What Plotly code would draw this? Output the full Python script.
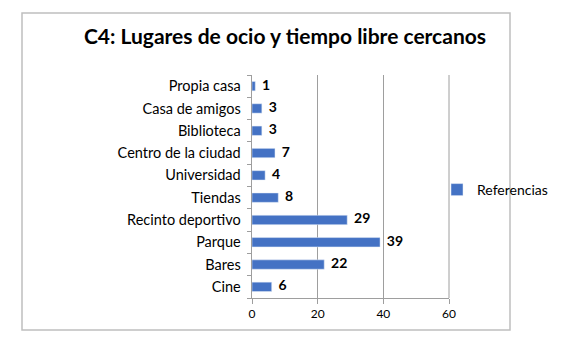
import plotly.graph_objects as go

categories = ["Cine", "Bares", "Parque", "Recinto deportivo", "Tiendas",
              "Universidad", "Centro de la ciudad", "Biblioteca", "Casa de amigos", "Propia casa"]
values = [6, 22, 39, 29, 8, 4, 7, 3, 3, 1]
x_ticks = [0, 20, 40, 60]
series_name = "Referencias"
title_text = "C4: Lugares de ocio y tiempo libre cercanos"

W, H = 567, 341
L, R, T, B = 252, 449, 75, 298
pw, ph = R - L, B - T

def px(x):
    return (x - L) / pw

def py(y):
    return (B - y) / ph

fig = go.Figure()
fig.add_trace(go.Bar(
    y=categories, x=values, orientation="h", name=series_name,
    marker=dict(color="#4472C4"), showlegend=True,
))
fig.add_trace(go.Scatter(
    y=categories, x=values, mode="text", text=["  " + str(v) for v in values],
    textposition="middle right", showlegend=False, cliponaxis=False,
    textfont=dict(family="Lato", size=14, color="#000000", weight="bold"),
))

fig.update_layout(
    width=W, height=H,
    margin=dict(l=L, r=W - R, t=T, b=H - B, autoexpand=False),
    paper_bgcolor="white", plot_bgcolor="white",
    font=dict(family="Lato", size=14, color="#000000"),
    bargap=0.58,
    title=dict(text="<b>" + title_text + "</b>", x=285 / W, xanchor="center",
               y=1 - 37 / H, yanchor="middle",
               font=dict(family="Lato", size=21, color="#000000")),
    xaxis=dict(range=[0, 60], tickvals=x_ticks, showgrid=True, gridcolor="#9e9e9e",
               gridwidth=1, zeroline=False, showline=True, linecolor="#9e9e9e",
               ticks="outside", ticklen=5, tickcolor="#9e9e9e",
               tickfont=dict(family="Lato", size=12, color="#000000")),
    yaxis=dict(type="category", showgrid=False, showline=True, linecolor="#9e9e9e",
               ticks="outside", ticklen=4, tickcolor="#9e9e9e", tickson="boundaries",
               tickfont=dict(family="Lato", size=14.5, color="#000000"), ticksuffix="  "),
    legend=dict(x=px(437), y=py(190), xanchor="left", yanchor="middle",
                font=dict(family="Lato", size=14, color="#000000"),
                itemwidth=30, bgcolor="rgba(0,0,0,0)"),
    shapes=[
        dict(type="rect", xref="paper", yref="paper",
             x0=px(22), x1=px(510), y0=py(330), y1=py(13),
             line=dict(color="#bfbfbf", width=1.5), layer="below"),
        dict(type="line", xref="paper", yref="paper", x0=1, x1=1, y0=0, y1=1,
             line=dict(color="#9e9e9e", width=1)),
    ],
)

fig.write_html("out.html", config={"displayModeBar": False},
               post_script="document.body.style.margin='0px';document.body.style.padding='0px';")
